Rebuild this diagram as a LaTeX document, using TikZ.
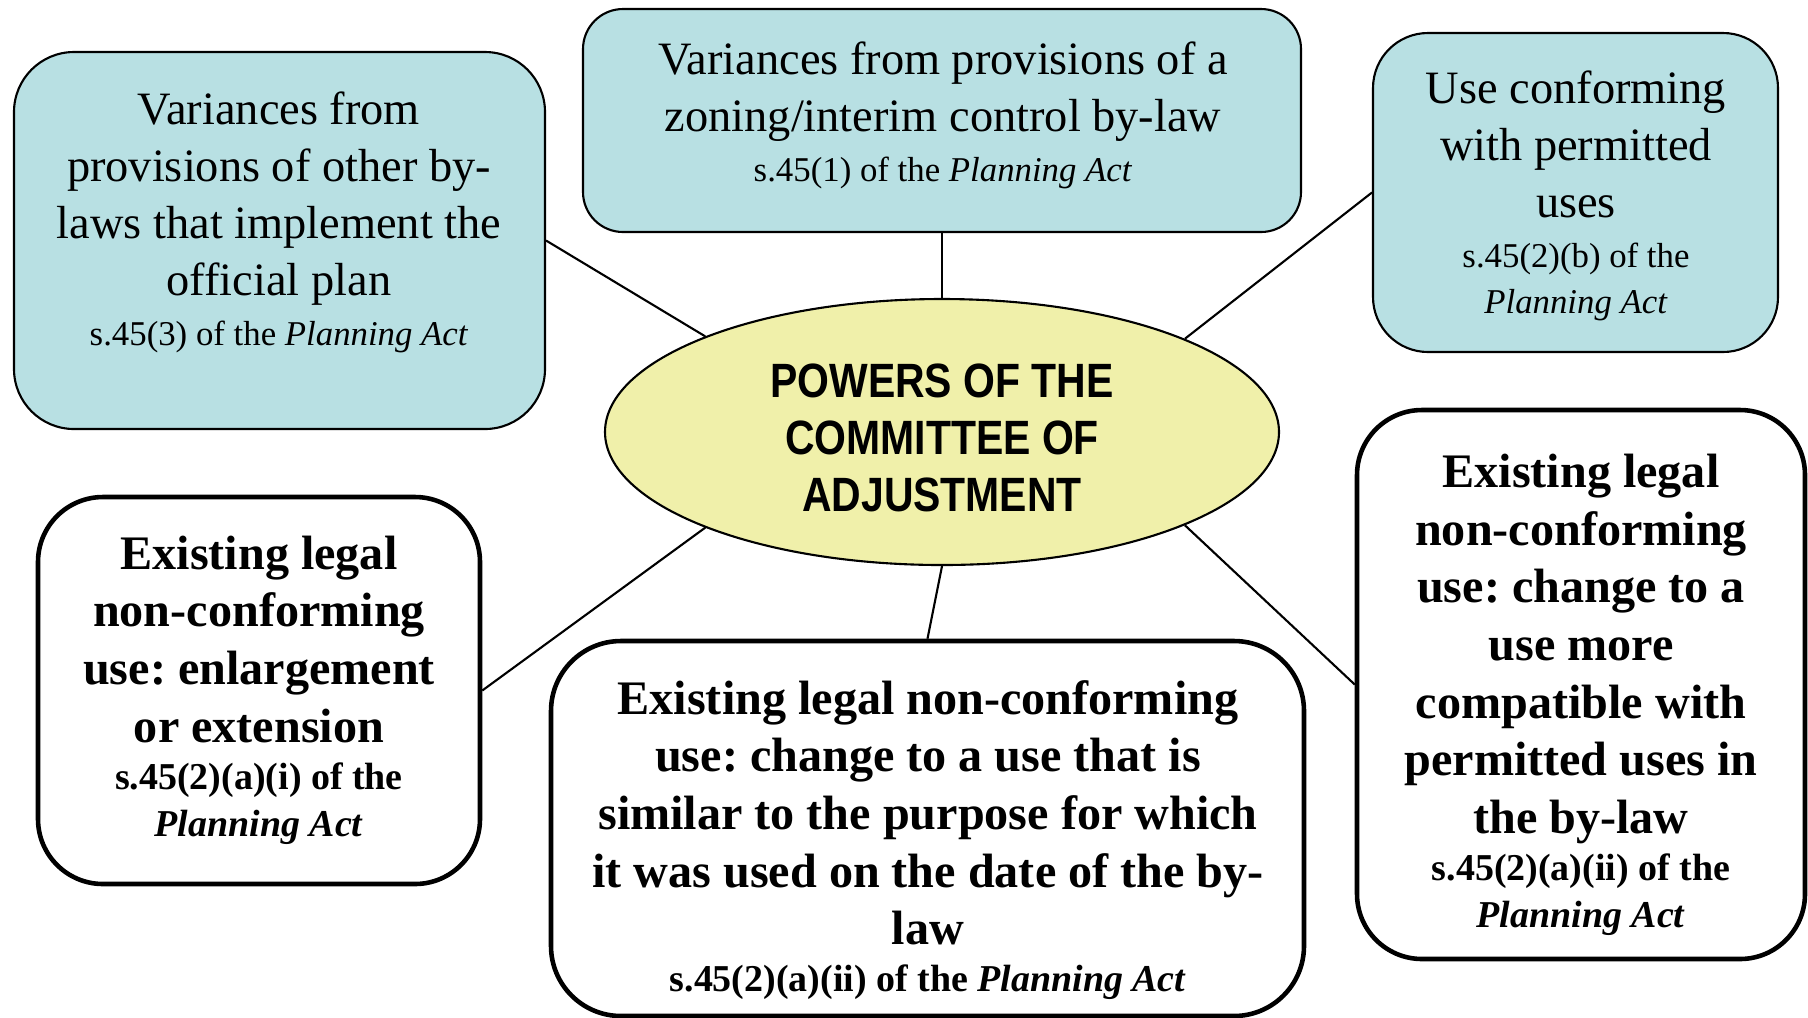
\documentclass[tikz,border=0pt]{standalone}
\usepackage{fontspec}
\usetikzlibrary{shapes.geometric}
\setmainfont{Liberation Serif}
\newfontfamily\narrowsans[FakeStretch=0.85]{Liberation Sans}
\definecolor{boxteal}{RGB}{184,224,227}
\definecolor{ellyellow}{RGB}{240,240,170}
\frenchspacing

\begin{document}
\begin{tikzpicture}
  [ x=0.1mm, y=-0.1mm,
    tealbox/.style={rectangle, rounded corners=6mm, draw=black, line width=0.6pt, fill=boxteal, inner sep=0pt},
    whitebox/.style={rectangle, rounded corners=6.5mm, draw=black, line width=1.3pt, fill=white, inner sep=0pt},
    core/.style={ellipse, draw=black, line width=0.6pt, fill=ellyellow, inner sep=0pt,
      minimum width=67.4mm, minimum height=26.6mm},
    coretxt/.style={align=center, inner sep=0pt,
      font=\narrowsans\bfseries\fontsize{13.7}{16.3}\selectfont},
    plaintxt/.style={align=center, inner sep=0pt, font=\fontsize{13.2}{16.2}\selectfont},
    boldtxt/.style={align=center, inner sep=0pt, font=\bfseries\fontsize{13.7}{16.4}\selectfont},
    link/.style={-, line width=0.6pt, black}
  ]
  \useasboundingbox (0,0) rectangle (1808,1017);

  \node[core] (powers) at (942,432) {};
  \node[coretxt] (powerstxt) at (942,438) {POWERS OF THE\\COMMITTEE OF\\ADJUSTMENT};

  % upper boxes
  \node[tealbox, minimum width=53.1mm, minimum height=37.7mm] (optplan) at (279.5,240.5) {};
  \node[tealbox, rounded corners=4mm, minimum width=71.8mm, minimum height=22.3mm] (zoning) at (942,120.5) {};
  \node[tealbox, rounded corners=5.5mm, minimum width=40.5mm, minimum height=31.9mm] (conform) at (1575.5,192.5) {};

  \node[plaintxt] (optplantxt) at (279,222)
    {Variances from\\provisions of other by-\\laws that implement the\\official plan\\[-2pt]
     {\fontsize{9.9}{13}\selectfont s.45(3) of the \textit{Planning Act}}};
  \node[plaintxt] (zoningtxt) at (943,115)
    {Variances from provisions of a\\zoning/interim control by-law\\[-2pt]
     {\fontsize{9.9}{13}\selectfont s.45(1) of the \textit{Planning Act}}};
  \node[plaintxt] (conformtxt) at (1576,196)
    {Use conforming\\with permitted\\uses\\[-2pt]
     {\fontsize{9.9}{13}\selectfont s.45(2)(b) of the}\\[-3pt]
     {\fontsize{9.9}{13}\selectfont\textit{Planning Act}}};

  % lower boxes
  \node[whitebox, minimum width=44.2mm, minimum height=38.7mm] (enlarge) at (259,690.5) {};
  \node[whitebox, rounded corners=7mm, minimum width=75.3mm, minimum height=37.5mm] (similar) at (927.5,828.5) {};
  \node[whitebox, minimum width=44.8mm, minimum height=54.9mm] (compat) at (1581,684.5) {};

  \node[boldtxt] (enlargetxt) at (259,690)
    {Existing legal\\non-conforming\\use: enlargement\\or extension\\[-3pt]
     {\fontsize{10.8}{12.6}\selectfont s.45(2)(a)(i) of the}\\[-3pt]
     {\fontsize{10.8}{12.6}\selectfont\textit{Planning Act}}};
  \node[boldtxt] (similartxt) at (928,840)
    {Existing legal non-conforming\\use: change to a use that is\\similar to the purpose for which\\it was used on the date of the by-\\law\\[-3pt]
     {\fontsize{10.8}{12.6}\selectfont s.45(2)(a)(ii) of the \textit{Planning Act}}};
  \node[boldtxt] (compattxt) at (1581,695)
    {Existing legal\\non-conforming\\use: change to a\\use more\\compatible with\\permitted uses in\\the by-law\\[-3pt]
     {\fontsize{10.8}{12.6}\selectfont s.45(2)(a)(ii) of the}\\[-3pt]
     {\fontsize{10.8}{12.6}\selectfont\textit{Planning Act}}};

  % spokes
  \draw[link] (optplan.east) -- (powers.158.5);
  \draw[link] (zoning.south) -- (powers.north);
  \draw[link] (conform.west) -- (powers.21.5);
  \draw[link] (enlarge.east) -- (powers.-158.5);
  \draw[link] (similar.north) -- (powers.south);
  \draw[link] (compat.west) -- (powers.-21.5);
\end{tikzpicture}
\end{document}
